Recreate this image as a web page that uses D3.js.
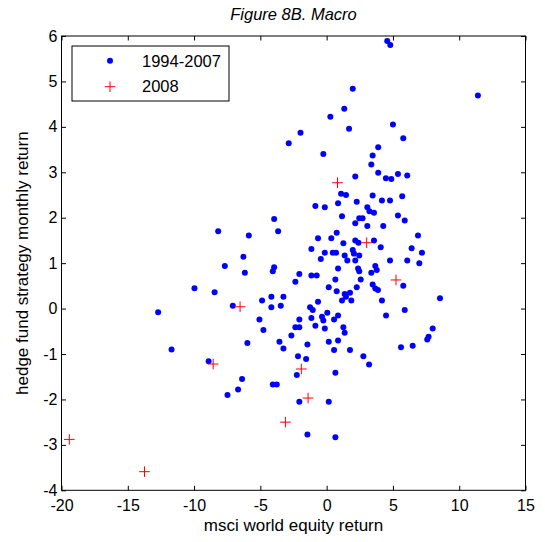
<!DOCTYPE html>
<html>
<head>
<meta charset="utf-8">
<script src="https://cdn.jsdelivr.net/npm/d3@7"></script>
<style>
  html, body { margin: 0; padding: 0; background: #fff; }
  svg { display: block; font-family: "Liberation Sans", Arial, Helvetica, sans-serif; }
</style>
</head>
<body>
<div id="chart"></div>
<script>
// Monthly returns: MSCI World equity (x) vs. macro hedge fund strategy (y), in percent
const baseX = [4.57,4.80,1.97,11.41,1.33,0.28,5.00,1.69,-1.97,5.78,-2.86,3.89,-0.25,3.47,3.37,3.89,5.38,6.08,2.16,4.47,4.88,1.09,1.46,3.47,5.70,4.17,4.78,2.27,-0.85,-0.14,0.86,3.07,3.23,3.57,1.16,5.38,5.89,2.46,2.71,-3.96,2.16,3.07,4.27,-3.66,-8.18,-5.87,6.89,0.76,-0.65,0.35,2.16,2.40,3.57,1.26,4.08,-1.15,1.97,6.41,7.19,-6.28,-0.14,0.46,0.71,2.06,1.36,2.46,-0.44,1.56,2.16,4.78,6.08,6.99,-7.68,-6.17,-4.06,-3.96,-2.06,-1.15,-0.75,0.86,2.37,2.46,3.37,3.67,3.78,-2.36,0.66,2.57,3.47,3.67,3.87,5.78,0.16,0.76,2.27,1.76,1.36,1.46,1.16,1.86,-9.97,-8.45,-4.17,-3.26,-4.87,-4.17,-3.46,-7.08,-0.65,4.17,8.55,-12.71,-1.25,-1.05,0.05,5.89,4.48,-5.07,-2.06,-1.15,-0.35,-0.25,0.56,0.86,-4.77,-2.36,-2.06,-0.85,-0.14,1.26,1.36,8.00,7.69,7.59,-2.66,-5.98,-3.56,-1.45,0.16,0.86,-3.26,0.56,1.76,5.61,6.49,-2.16,-1.55,2.77,3.20,-2.25,0.66,-6.38,-4.06,-3.76,-6.68,-7.48,-2.06,0.16,-1.45,0.66,-11.70,-8.90];
const baseY = [5.89,5.80,4.84,4.69,4.40,4.22,4.05,3.96,3.87,3.75,3.64,3.55,3.40,3.37,3.17,2.99,2.96,2.93,2.91,2.87,2.85,2.53,2.50,2.49,2.47,2.38,2.38,2.35,2.26,2.23,2.32,2.23,2.14,2.11,2.03,2.05,1.94,1.99,1.99,1.97,1.88,1.82,1.82,1.70,1.70,1.61,1.61,1.67,1.55,1.55,1.50,1.45,1.50,1.44,1.35,1.31,1.29,1.33,1.23,1.14,1.23,1.23,1.23,1.21,1.17,1.17,1.09,1.06,1.06,1.06,1.06,1.00,0.94,0.79,0.82,0.91,0.76,0.73,0.73,0.88,0.88,0.82,0.79,0.94,0.85,0.59,0.64,0.64,0.53,0.44,0.41,0.50,0.47,0.38,0.47,0.35,0.32,0.26,0.18,0.18,0.45,0.36,0.26,0.26,0.18,0.03,0.06,0.06,0.15,0.18,0.23,-0.08,0.03,-0.03,-0.09,-0.03,-0.15,-0.24,-0.24,-0.21,-0.18,-0.26,-0.24,-0.15,-0.47,-0.41,-0.41,-0.38,-0.44,-0.41,-0.53,-0.44,-0.62,-0.68,-0.59,-0.76,-0.73,-0.79,-0.73,-0.70,-0.88,-0.91,-0.91,-0.85,-0.82,-1.05,-1.11,-1.05,-1.23,-1.46,-1.41,-1.55,-1.67,-1.67,-1.78,-1.90,-2.05,-2.05,-2.77,-2.83,-0.90,-1.16];

const crisisX = [0.82,3.02,5.23,-6.53,-8.56,-1.91,-1.40,-3.11,-19.41,-13.74];
const crisisY = [2.77,1.45,0.63,0.04,-1.22,-1.33,-1.97,-2.50,-2.88,-3.59];

const xTicks = [-20,-15,-10,-5,0,5,10,15];
const yTicks = [-4,-3,-2,-1,0,1,2,3,4,5,6];
const seriesNames = ["1994-2007", "2008"];

const W = 545, H = 542;
const margin = { top: 36, right: 19.5, bottom: 51.7, left: 61.5 };
const iw = W - margin.left - margin.right;
const ih = H - margin.top - margin.bottom;
const FONT = 16;

const svg = d3.select("#chart").append("svg")
  .attr("width", W).attr("height", H);

const g = svg.append("g").attr("transform", `translate(${margin.left},${margin.top})`);

const x = d3.scaleLinear().domain([-20, 15]).range([0, iw]);
const y = d3.scaleLinear().domain([-4, 6]).range([ih, 0]);

const tick = 4.5;
const plain = d => String(d);   // hyphen-minus, as in the original labels

function styleAxis(sel) {
  sel.select(".domain").remove();
  sel.selectAll(".tick line").attr("stroke", "#000").attr("stroke-width", 1);
  sel.selectAll(".tick text").attr("fill", "#000").attr("font-size", FONT);
}

g.append("g").attr("transform", `translate(0,${ih})`)
  .call(d3.axisBottom(x).tickValues(xTicks).tickFormat(plain).tickSizeInner(-tick).tickSizeOuter(0).tickPadding(9))
  .call(styleAxis);

g.append("g")
  .call(d3.axisTop(x).tickValues(xTicks).tickSizeInner(-tick).tickSizeOuter(0).tickFormat(""))
  .call(styleAxis);

g.append("g")
  .call(d3.axisLeft(y).tickValues(yTicks).tickFormat(plain).tickSizeInner(-tick).tickSizeOuter(0).tickPadding(4))
  .call(styleAxis);

g.append("g").attr("transform", `translate(${iw},0)`)
  .call(d3.axisRight(y).tickValues(yTicks).tickSizeInner(-tick).tickSizeOuter(0).tickFormat(""))
  .call(styleAxis);

// plot frame
g.append("rect")
  .attr("x", 0).attr("y", 0).attr("width", iw).attr("height", ih)
  .attr("fill", "none").attr("stroke", "#000").attr("stroke-width", 1);

// 1994-2007 observations
g.append("g").selectAll("circle")
  .data(d3.range(baseX.length))
  .join("circle")
  .attr("cx", i => x(baseX[i]))
  .attr("cy", i => y(baseY[i]))
  .attr("r", 3)
  .attr("fill", "#0000ff");

// 2008 observations as plus markers
const cross = 5.3;
g.append("g").selectAll("path")
  .data(d3.range(crisisX.length))
  .join("path")
  .attr("d", i => {
    const cx = x(crisisX[i]), cy = y(crisisY[i]);
    return `M${cx - cross},${cy}H${cx + cross}M${cx},${cy - cross}V${cy + cross}`;
  })
  .attr("stroke", "#ff0000")
  .attr("stroke-width", 1)
  .attr("fill", "none");

// title and axis labels
svg.append("text")
  .attr("x", margin.left + iw / 2).attr("y", 20)
  .attr("text-anchor", "middle")
  .attr("font-size", FONT + 0.5).attr("font-style", "italic")
  .text("Figure 8B. Macro");

svg.append("text")
  .attr("x", margin.left + iw / 2).attr("y", 531)
  .attr("text-anchor", "middle")
  .attr("font-size", FONT + 1)
  .text("msci world equity return");

svg.append("text")
  .attr("transform", `translate(28,${margin.top + ih / 2}) rotate(-90)`)
  .attr("text-anchor", "middle")
  .attr("font-size", FONT + 1)
  .text("hedge fund strategy monthly return");

// legend
const lg = svg.append("g");
lg.append("rect")
  .attr("x", 72).attr("y", 46).attr("width", 157).attr("height", 55)
  .attr("fill", "#fff").attr("stroke", "#000").attr("stroke-width", 1);
lg.append("circle").attr("cx", 110).attr("cy", 60.7).attr("r", 3).attr("fill", "#0000ff");
lg.append("path")
  .attr("d", `M${110 - cross},86.7H${110 + cross}M110,${86.7 - cross}V${86.7 + cross}`)
  .attr("stroke", "#ff0000").attr("stroke-width", 1);
lg.append("text").attr("x", 142).attr("y", 66.7).attr("font-size", FONT + 0.5).text(seriesNames[0]);
lg.append("text").attr("x", 142).attr("y", 92).attr("font-size", FONT + 0.5).text(seriesNames[1]);
</script>
</body>
</html>
